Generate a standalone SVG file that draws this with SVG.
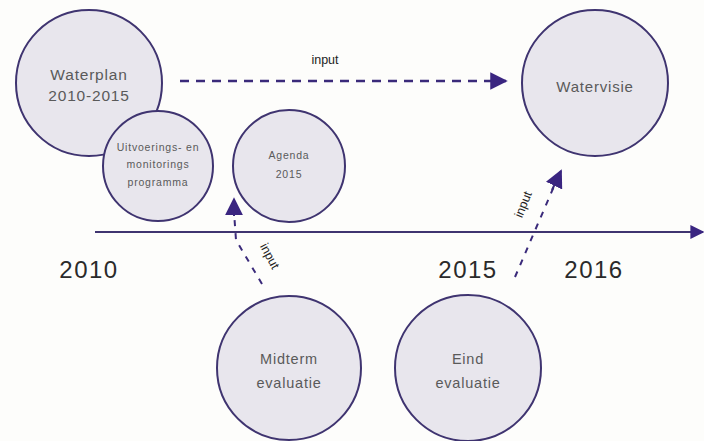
<svg xmlns="http://www.w3.org/2000/svg" width="704" height="441" viewBox="0 0 704 441">
<defs>
<style>
.node circle{fill:#e8e6ed;stroke:#3f3470;stroke-width:2}
.lbl{font-family:"Liberation Sans",Arial,sans-serif;fill:#5a5a5a;text-anchor:middle;letter-spacing:0.8px}
.year{font-family:"Liberation Sans",Arial,sans-serif;fill:#2a2a2a;font-size:24px;text-anchor:middle;letter-spacing:1.5px}
.dash{fill:none;stroke:#3a2a7a;stroke-width:2.5;stroke-dasharray:9 7}
.dash2{fill:none;stroke:#3a2a7a;stroke-width:2;stroke-dasharray:6 7}
.inp{font-family:"Liberation Sans",Arial,sans-serif;fill:#222;font-size:12.5px;text-anchor:middle}
</style>
<marker id="ah" viewBox="0 0 10 10" refX="9" refY="5" markerWidth="7" markerHeight="7" markerUnits="strokeWidth" orient="auto">
<path d="M0,0 L10,5 L0,10 z" fill="#3a2580"/>
</marker>
<marker id="ah2" viewBox="0 0 10 10" refX="9" refY="5" markerWidth="9" markerHeight="9" markerUnits="strokeWidth" orient="auto">
<path d="M0,0 L10,5 L0,10 z" fill="#3a2580"/>
</marker>
</defs>
<rect width="704" height="441" fill="#fdfdfb"/>
<g id="connectors">
<line x1="95" y1="232" x2="703" y2="232" stroke="#3f3470" stroke-width="2" marker-end="url(#ah)"/>
<line x1="180" y1="81" x2="506" y2="81" class="dash" marker-end="url(#ah)"/>
<path d="M262 284 L236 240 L234 212" class="dash2"/>
<path d="M234 216 L234 199" stroke="#3a2a7a" stroke-width="2" fill="none" marker-end="url(#ah2)"/>
<path d="M515 277 L555 184" class="dash2"/>
<path d="M552 190 L561 171" stroke="#3a2a7a" stroke-width="2" fill="none" marker-end="url(#ah2)"/>
<text class="inp" x="325" y="64">input</text>
<text class="inp" transform="translate(266,258) rotate(62)">input</text>
<text class="inp" transform="translate(527,206) rotate(-68)">input</text>
</g>
<g id="waterplan" class="node"><circle cx="89" cy="83" r="73"/>
<text class="lbl" font-size="15.5" x="89" y="80">Waterplan</text><text class="lbl" font-size="15.5" x="89" y="101">2010-2015</text></g>
<g id="uitvoering" class="node"><circle cx="158" cy="166" r="55"/>
<text class="lbl" font-size="10.5" x="158" y="151">Uitvoerings- en</text><text class="lbl" font-size="10.5" x="158" y="168">monitorings</text><text class="lbl" font-size="10.5" x="158" y="186">programma</text></g>
<g id="agenda" class="node"><circle cx="289" cy="166" r="56"/>
<text class="lbl" font-size="10.5" x="289" y="159">Agenda</text><text class="lbl" font-size="10.5" x="289" y="178">2015</text></g>
<g id="watervisie" class="node"><circle cx="595" cy="83" r="73"/>
<text class="lbl" font-size="15" x="595" y="92">Watervisie</text></g>
<g id="midterm" class="node"><circle cx="289" cy="368" r="72"/>
<text class="lbl" font-size="14.5" x="289" y="364">Midterm</text><text class="lbl" font-size="14.5" x="289" y="388">evaluatie</text></g>
<g id="eind" class="node"><circle cx="468" cy="368" r="73"/>
<text class="lbl" font-size="14.5" x="468" y="364">Eind</text><text class="lbl" font-size="14.5" x="468" y="388">evaluatie</text></g>
<text class="year" x="89" y="278">2010</text>
<text class="year" x="468" y="278">2015</text>
<text class="year" x="594" y="278">2016</text>
</svg>
